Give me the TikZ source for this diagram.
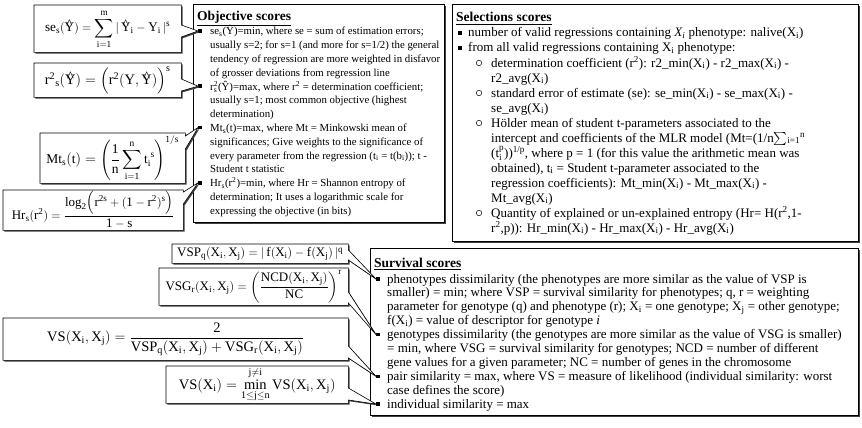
\documentclass[tikz,border=0pt]{standalone}
\usepackage{amsmath,amssymb}
\usepackage{fontspec}
\setmainfont{Liberation Serif}
\setmonofont{Liberation Mono}
\setmathrm{Liberation Serif}
\usetikzlibrary{shadows}
\newcommand\xii{X\textsubscript{i}}
\newcommand\xjj{X\textsubscript{j}}
\newcommand\callpath[4]{\draw[cbox] (#1.north west) -- (#1.north east) -- ([yshift=-#2pt]#1.north east) -- (#4) -- ([yshift=-#3pt]#1.north east) -- (#1.south east) -- (#1.south west) -- cycle;}
\tikzset{
  shad/.style={drop shadow={shadow xshift=1.3pt,shadow yshift=-1.3pt,fill=black!75,opacity=1}},
  mbox/.style={draw=black,line width=0.6pt,fill=white,shad,inner sep=0pt,anchor=north west},
  cbox/.style={draw=black,line width=0.6pt,fill=white,shad,line join=miter},
  frame/.style={inner sep=0pt,anchor=north west},
  ftext/.style={inner sep=0pt,font=\fontsize{13}{15}\selectfont},
  ttl/.style={inner sep=0pt,anchor=base west,font=\fontsize{13.5}{15}\selectfont\bfseries},
  otxt/.style={inner sep=0pt,anchor=base west,font=\fontsize{10.8}{13.8}\selectfont},
  etxt/.style={inner sep=0pt,anchor=base west,font=\fontsize{13}{15}\selectfont},
  stxt/.style={inner sep=0pt,anchor=base west,font=\fontsize{13}{13.9}\selectfont},
  sq/.style={fill=black,inner sep=0pt,minimum size=3.6pt},
  circ/.style={draw=black,line width=0.5pt,circle,inner sep=0pt,minimum size=5.5pt},
}
\begin{document}
\begin{tikzpicture}[x=1pt,y=-1pt]
\path[use as bounding box,fill=white] (0,0) rectangle (862,428);

% ---------- Objective scores ----------
\node[mbox,minimum width=251pt,minimum height=218pt] (obj) at (193,4) {};
\node[ttl] (objt) at (197,21) {\underline{Objective scores}};
\node[sq] (ob1) at (200,31) {};
\node[sq] (ob2) at (200,86.2) {};
\node[sq] (ob3) at (200,127.6) {};
\node[sq] (ob4) at (200,182.8) {};
\node[otxt] (ot1) at (210,34.8) {\begin{tabular}[t]{@{}l@{}}
se\textsubscript{s}(Ŷ)=min, where se = sum of estimation errors;\\
usually s=2; for s=1 (and more for s=1/2) the general\\
tendency of regression are more weighted in disfavor\\
of grosser deviations from regression line\end{tabular}};
\node[otxt] (ot2) at (210,90) {\begin{tabular}[t]{@{}l@{}}
r$_{\mathrm{s}}^{\mathrm{2}}$(Ŷ)=max, where r\textsuperscript{2} = determination coefficient;\\
usually s=1; most common objective (highest\\
determination)\end{tabular}};
\node[otxt] (ot3) at (210,131.4) {\begin{tabular}[t]{@{}l@{}}
Mt\textsubscript{s}(t)=max, where Mt = Minkowski mean of\\
significances; Give weights to the significance of\\
every parameter from the regression (t\textsubscript{i} = t(b\textsubscript{i})); t -\\
Student t statistic\end{tabular}};
\node[otxt] (ot4) at (210,186.6) {\begin{tabular}[t]{@{}l@{}}
Hr\textsubscript{s}(r\textsuperscript{2})=min, where Hr = Shannon entropy of\\
determination; It uses a logarithmic scale for\\
expressing the objective (in bits)\end{tabular}};

% ---------- Selections scores ----------
\node[mbox,minimum width=406pt,minimum height=237pt] (sel) at (452,4) {};
\node[ttl] (selt) at (456,22) {\underline{Selections scores}};
\node[sq] (sb1) at (460,33) {};
\node[sq] (sb2) at (460,48) {};
\node[etxt] (st1) at (468,37) {number of valid regressions containing \textit{X\textsubscript{i}} phenotype: nalive(\xii)};
\node[etxt] (st2) at (468,52) {from all valid regressions containing \xii{} phenotype:};
\node[circ] (sc1) at (479,63) {};
\node[circ] (sc2) at (479,93) {};
\node[circ] (sc3) at (479,123) {};
\node[circ] (sc4) at (479,213) {};
\node[etxt] (su1) at (491,67) {\begin{tabular}[t]{@{}l@{}}
determination coefficient (r\textsuperscript{2}): r2\_min(\xii) - r2\_max(\xii) -\\
r2\_avg(\xii)\end{tabular}};
\node[etxt] (su2) at (491,97) {\begin{tabular}[t]{@{}l@{}}
standard error of estimate (se): se\_min(\xii) - se\_max(\xii) -\\
se\_avg(\xii)\end{tabular}};
\node[etxt] (su3) at (491,127) {\begin{tabular}[t]{@{}l@{}}
Hölder mean of student t-parameters associated to the\\
intercept and coefficients of the MLR model (Mt=(1/n$\sum$\textsubscript{i=1}\textsuperscript{n}\\
(t$_{\mathrm{i}}^{\mathrm{p}}$))\textsuperscript{1/p}, where p = 1 (for this value the arithmetic mean was\\
obtained), t\textsubscript{i} = Student t-parameter associated to the\\
regression coefficients): Mt\_min(\xii) - Mt\_max(\xii) -\\
Mt\_avg(\xii)\end{tabular}};
\node[etxt] (su4) at (491,217) {\begin{tabular}[t]{@{}l@{}}
Quantity of explained or un-explained entropy (Hr= H(r\textsuperscript{2},1-\\
r\textsuperscript{2},p)): Hr\_min(\xii) - Hr\_max(\xii) - Hr\_avg(\xii)\end{tabular}};

% ---------- Survival scores ----------
\node[mbox,minimum width=488pt,minimum height=167pt] (sur) at (370,248) {};
\node[ttl] (surt) at (374,267) {\underline{Survival scores}};
\node[sq] (vb1) at (378,279) {};
\node[sq] (vb2) at (378,334.6) {};
\node[sq] (vb3) at (378,376.3) {};
\node[sq] (vb4) at (378,404.1) {};
\node[stxt] (vt1) at (387,283) {\begin{tabular}[t]{@{}l@{}}
phenotypes dissimilarity (the phenotypes are more similar as the value of VSP is\\
smaller) = min; where VSP = survival similarity for phenotypes; q, r = weighting\\
parameter for genotype (q) and phenotype (r); \xii{} = one genotype; \xjj{} = other genotype;\\
f(\xii) = value of descriptor for genotype \textit{i}\end{tabular}};
\node[stxt] (vt2) at (387,338.6) {\begin{tabular}[t]{@{}l@{}}
genotypes dissimilarity (the genotypes are more similar as the value of VSG is smaller)\\
= min, where VSG = survival similarity for genotypes; NCD = number of different\\
gene values for a given parameter; NC = number of genes in the chromosome\end{tabular}};
\node[stxt] (vt3) at (387,380.3) {\begin{tabular}[t]{@{}l@{}}
pair similarity = max, where VS = measure of likelihood (individual similarity: worst\\
case defines the score)\end{tabular}};
\node[stxt] (vt4) at (387,408.1) {individual similarity = max};

% ---------- Callouts: objective ----------
\node[frame,minimum width=147pt,minimum height=47pt] (cse) at (34,5) {};
\callpath{cse}{20}{32}{ob1.west}
\node[ftext,font=\fontsize{13.2}{15}\selectfont] (fse) at ([yshift=-0.5pt]cse.center) {$\displaystyle\mathrm{se_s(\hat{Y}) = \sum_{i=1}^{m}|\,\hat{Y}_i - Y_i\,|^{s}}$};

\node[frame,minimum width=147pt,minimum height=34pt] (cr2) at (34,63) {};
\callpath{cr2}{16}{28}{ob2.west}
\node[ftext,font=\fontsize{14.5}{16}\selectfont] (fr2) at (cr2.center) {$\mathrm{r^2{}_s(\hat{Y}) = \Bigl(r^2(Y,\hat{Y})\Bigr)^{s}}$};

\node[frame,minimum width=145pt,minimum height=50pt] (cmt) at (40,133) {};
\callpath{cmt}{3}{16}{ob3.west}
\node[ftext,font=\fontsize{13.5}{15}\selectfont] (fmt) at (cmt.center) {$\displaystyle\mathrm{Mt_s(t) = \left(\frac{1}{n}\sum_{i=1}^{n} t_i^{\;s}\right)^{1/s}}$};

\node[frame,minimum width=180pt,minimum height=40pt] (chr) at (3,190) {};
\callpath{chr}{2}{14}{ob4.west}
\node[ftext] (fhr) at (chr.center) {$\displaystyle\mathrm{Hr_s(r^2) = \frac{\log_2\Bigl(r^{2s}+(1-r^2)^s\Bigr)}{1-s}}$};

% ---------- Callouts: survival ----------
\node[frame,minimum width=176pt,minimum height=19pt] (cvsp) at (172,244) {};
\callpath{cvsp}{6}{16}{vb1.west}
\node[ftext] (fvsp) at (cvsp.center) {$\mathrm{VSP_q(X_i,X_j) = |\,f(X_i) - f(X_j)\,|^{q}}$};

\node[frame,minimum width=189pt,minimum height=37pt] (cvsg) at (159,268) {};
\callpath{cvsg}{24}{35}{vb2.west}
\node[ftext] (fvsg) at (cvsg.center) {$\displaystyle\mathrm{VSG_r(X_i,X_j) = \left(\frac{NCD(X_i,X_j)}{NC}\right)^{r}}$};

\node[frame,minimum width=345pt,minimum height=42pt] (cvs) at (3,318) {};
\callpath{cvs}{28}{40}{vb3.west}
\node[ftext,font=\fontsize{14.5}{16}\selectfont] (fvs) at (cvs.center) {$\displaystyle\mathrm{VS(X_i,X_j) = \frac{2}{VSP_q(X_i,X_j)+VSG_r(X_i,X_j)}}$};

\node[frame,minimum width=182pt,minimum height=37pt] (cvsm) at (166,366) {};
\callpath{cvsm}{22}{34}{vb4.west}
\node[ftext,font=\fontsize{14.5}{16}\selectfont] (fvsm) at (cvsm.center) {$\displaystyle\mathrm{VS(X_i) = \min_{1\le j\le n}^{j\ne i} VS(X_i,X_j)}$};
\end{tikzpicture}
\end{document}
